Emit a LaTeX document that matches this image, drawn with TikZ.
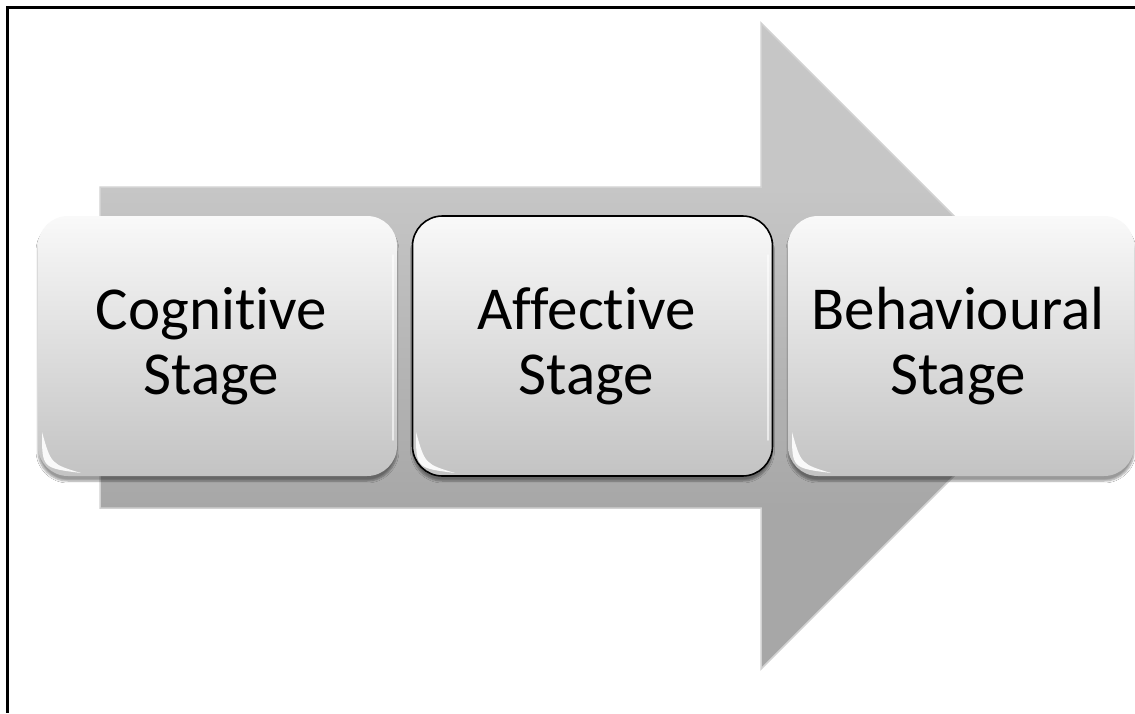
\documentclass[tikz,border=0pt]{standalone}
\usepackage{fontspec}
\setmainfont{Carlito}[RawFeature={-liga;-clig;-dlig}]
\usetikzlibrary{shadows.blur}
\definecolor{arrtop}{HTML}{C6C6C6}
\definecolor{arrbot}{HTML}{A7A7A7}
\definecolor{arredge}{HTML}{D2D2D2}
\definecolor{boxtop}{HTML}{F9F9F9}
\definecolor{boxbot}{HTML}{C3C3C3}
\pgfdeclareverticalshading{arrowgrad}{100bp}{color(0bp)=(arrbot); color(37.5bp)=(arrbot); color(62.3bp)=(arrtop); color(100bp)=(arrtop)}
\newcommand\stagelines[2]{#1\hspace*{12pt}\\#2\hspace*{12pt}}
\begin{document}
\begin{tikzpicture}[x=1pt,y=-1pt,
  stagebox/.style={rectangle, rounded corners=30pt, minimum height=260pt, inner sep=0pt,
    align=center, font=\fontsize{61}{65}\selectfont, text=black,
    top color=boxtop, bottom color=boxbot,
    blur shadow={shadow xshift=0pt, shadow yshift=-5pt, shadow blur steps=6, shadow opacity=40}},
  gloss/.style={fill=white, opacity=0.9},
  framel/.style={draw=black, line width=3pt}
]
\useasboundingbox (0,0) rectangle (1135,713);
\fill[white] (0,0) rectangle (1135,713);

% big arrow
\path[shading=arrowgrad, draw=arredge, line width=1.5pt, line join=miter]
  (100,187) -- (761,187) -- (761,23) -- (1084,346) -- (761,669) -- (761,508) -- (100,508) -- cycle;

% stages
\node[stagebox, minimum width=359pt] (cog) at (217.5,346) {\stagelines{Cognitive}{Stage}};
\node[stagebox, minimum width=360pt, draw=black, line width=1.6pt] (aff) at (592.5,346) {\stagelines{Affective}{Stage}};
\node[stagebox, minimum width=346pt] (beh) at (961,346) {Behavioural\hspace*{6pt}\\Stage\hspace*{6pt}};

% glossy highlights at the lower left corners
\foreach \L in {41,415,791}{
  \fill[gloss] (\L+1,432) .. controls (\L+1,468) .. (\L+40,473)
     .. controls (\L+10,464) .. (\L+1,432) -- cycle;
}
% faint highlights on the right edges
\foreach \R in {393,768}{
  \draw[white, line width=1.5pt, opacity=0.6, line cap=round] (\R,255) -- (\R,440);
}

% frame
\draw[framel] (1135,7) -- (7,7) -- (7,713);
\end{tikzpicture}
\end{document}
